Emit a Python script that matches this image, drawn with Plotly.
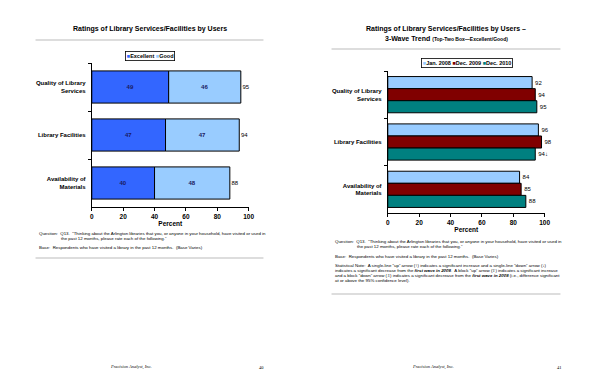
import plotly.graph_objects as go

W, H = 600, 388

# ---------------- data ----------------
categories = ["Quality of Library<br>Services", "Library Facilities", "Availability of<br>Materials"]

excellent = [49, 47, 40]
good = [46, 47, 48]
totals = [95, 94, 88]

jan_2008 = [92, 96, 84]
dec_2009 = [94, 98, 85]
dec_2010 = [95, 94, 88]
dec_2010_labels = ["95", "94↓", "88"]

x_ticks = [0, 20, 40, 60, 80, 100]

# ---------------- styling ----------------
FONT = "Liberation Sans, Arial, sans-serif"
C_EXC = "#3366FF"
C_GOOD = "#99CCFF"
C_JAN = "#99CCFF"
C_D09 = "#800000"
C_D10 = "#008080"
LINE = dict(color="black", width=1)


def px(x):
    return x / W


def py(y):
    return 1 - y / H


fig = go.Figure()

# ---- left chart: stacked ----
fig.add_trace(go.Bar(
    x=excellent, y=categories, orientation="h", name="Excellent",
    marker=dict(color=C_EXC, line=LINE), offset=-0.335, width=0.67,
    text=[str(v) for v in excellent], textposition="inside", insidetextanchor="middle",
    textfont=dict(size=6, color="#1a1a5e", family=FONT, weight="bold"), xaxis="x", yaxis="y",
    showlegend=False, cliponaxis=False))
fig.add_trace(go.Bar(
    x=good, y=categories, base=excellent, orientation="h", name="Good",
    marker=dict(color=C_GOOD, line=LINE), offset=-0.335, width=0.67,
    text=[str(v) for v in good], textposition="inside", insidetextanchor="middle",
    textfont=dict(size=6, color="#1a1a5e", family=FONT, weight="bold"), xaxis="x", yaxis="y",
    showlegend=False, cliponaxis=False))
fig.add_trace(go.Scatter(
    x=totals, y=categories, mode="text", text=[" " + str(v) for v in totals],
    textposition="middle right", textfont=dict(size=6, color="black", family=FONT),
    xaxis="x", yaxis="y", showlegend=False, cliponaxis=False, hoverinfo="skip"))

# ---- right chart: grouped ----
bw = 0.255
for vals, name, col, off, labels in [
    (jan_2008, "Jan. 2008", C_JAN, -1.5 * bw, [str(v) for v in jan_2008]),
    (dec_2009, "Dec. 2009", C_D09, -0.5 * bw, [str(v) for v in dec_2009]),
    (dec_2010, "Dec. 2010", C_D10, 0.5 * bw, dec_2010_labels),
]:
    fig.add_trace(go.Bar(
        x=vals, y=categories, orientation="h", name=name,
        marker=dict(color=col, line=LINE), offset=off, width=bw,
        text=labels, textposition="outside",
        textfont=dict(size=6, color="black", family=FONT),
        xaxis="x2", yaxis="y2", showlegend=False, cliponaxis=False))

axis_common = dict(
    range=[0, 100], tickvals=x_ticks, ticks="outside", ticklen=3, tickcolor="black",
    showline=True, linecolor="black", linewidth=1, showgrid=False, zeroline=False,
    tickfont=dict(size=6.5, family=FONT, color="black", weight="bold"),
    title=dict(text="<b>Percent</b>", font=dict(size=6.5, family=FONT, color="black"), standoff=2),
)
yaxis_common = dict(
    autorange="reversed", ticks="outside", ticklen=3, tickcolor="black", tickson="boundaries",
    showline=True, linecolor="black", linewidth=1, showgrid=False,
    tickfont=dict(size=6, family=FONT, color="black", weight="bold"), ticklabelstandoff=4,
)

fig.update_layout(
    width=W, height=H, margin=dict(l=0, r=0, t=0, b=0),
    paper_bgcolor="white", plot_bgcolor="white", barmode="overlay",
    font=dict(family=FONT, color="black"),
    xaxis=dict(domain=[px(91), px(250)], anchor="y", **axis_common),
    yaxis=dict(domain=[py(207), py(63)], anchor="x", **yaxis_common),
    xaxis2=dict(domain=[px(391), px(550)], anchor="y2", **axis_common),
    yaxis2=dict(domain=[py(213), py(71)], anchor="x2", **yaxis_common),
)

ann = []


def text(x, y, s, size=4.4, xanchor="left", **kw):
    ann.append(dict(x=px(x), y=py(y), xref="paper", yref="paper", text=s, showarrow=False,
                    xanchor=xanchor, yanchor="middle", align="left",
                    font=dict(size=size, family=kw.pop("family", FONT), color="black"), **kw))


# titles
text(150, 29, "<b>Ratings of Library Services/Facilities by Users</b>", size=7, xanchor="center")
text(450, 29, "<b>Ratings of Library Services/Facilities by Users –</b>", size=7, xanchor="center")
text(450, 39, "<b>3-Wave Trend</b> <span style='font-size:5px'><b>(Top-Two Box—Excellent/Good)</b></span>",
     size=7, xanchor="center")

# legends (drawn as bordered text boxes)
sq = "<span style='color:{}'>■</span>"
text(150, 56, "<b>" + sq.format(C_EXC) + "Excellent " + sq.format(C_GOOD) + "Good</b>", size=5.5,
     xanchor="center", bordercolor="black", borderwidth=0.8, borderpad=1, bgcolor="white")
text(471, 63, "<b>" + sq.format(C_JAN) + "Jan. 2008 " + sq.format(C_D09) + "Dec. 2009 "
     + sq.format(C_D10) + "Dec. 2010</b>", size=5.5,
     xanchor="center", bordercolor="black", borderwidth=0.8, borderpad=1, bgcolor="white")

# notes left
q1 = "Question:  Q13.  “Thinking about the Arlington libraries that you, or anyone in your household, have visited or used in"
q2 = "the past 12 months, please rate each of the following.”"
base = "Base:  Respondents who have visited a library in the past 12 months.  (Base Varies)"
text(35, 233, q1)
text(58, 238, q2)
text(35, 248, base)

# notes right
text(335, 241, q1)
text(358, 246, q2)
text(335, 256, base)
text(335, 265, "Statistical Note:  A single-line “up” arrow (↑) indicates a significant increase and a single-line “down” arrow (↓)")
text(335, 270, "indicates a significant decrease from the <b><i>first wave in 2008</i></b>.  A block “up” arrow (⇧) indicates a significant increase")
text(335, 275, "and a block “down” arrow (⇩) indicates a significant decrease from the <b><i>first wave in 2008</i></b> (i.e., difference significant")
text(335, 280, "at or above the 95% confidence level).")

# footers
text(131, 367, "<i>Precision Analyst, Inc.</i>", size=4.5, xanchor="center", family="Liberation Serif, serif")
text(263, 367, "40", size=4.5, xanchor="center", family="Liberation Serif, serif")
text(437, 367, "<i>Precision Analyst, Inc.</i>", size=4.5, xanchor="center", family="Liberation Serif, serif")
text(565, 367, "41", size=4.5, xanchor="center", family="Liberation Serif, serif")

fig.update_layout(annotations=ann)

# separator rules
shapes = []
for x0, x1, y in [(34, 265, 40), (34, 265, 258), (334, 566, 49), (334, 566, 294)]:
    shapes.append(dict(type="line", xref="paper", yref="paper", x0=px(x0), x1=px(x1),
                       y0=py(y), y1=py(y), line=dict(color="#bbbbbb", width=1)))
fig.update_layout(shapes=shapes)

fig.write_html("out.html", config={"displayModeBar": False},
               post_script="document.body.style.margin='0';")
